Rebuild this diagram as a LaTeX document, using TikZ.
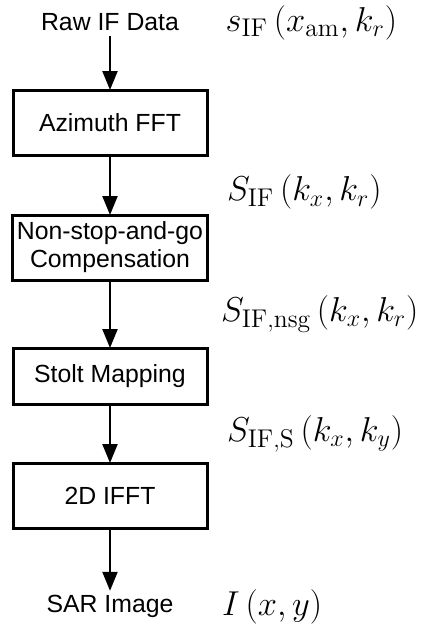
\documentclass[tikz,border=0pt]{standalone}
\usepackage{amsmath}
\usepackage{fontspec}
\setsansfont{Liberation Sans}
\usepackage{tikz}
\usetikzlibrary{positioning,arrows.meta}

\begin{document}
\begin{tikzpicture}[
  node distance=30pt,
  proc/.style={draw, line width=1.5pt, minimum width=97pt, minimum height=32.5pt, outer sep=0pt, inner xsep=2pt, font=\sffamily\fontsize{12.4}{14}\selectfont, align=center},
  io/.style={font=\sffamily\fontsize{12.4}{14}\selectfont, inner sep=2pt},
  sig/.style={font=\fontsize{18.3}{21}\selectfont, inner sep=0pt, anchor=west},
  arr/.style={-{Triangle[length=9.5pt,width=7.5pt]}, line width=1.1pt},
]
\useasboundingbox (0,0) rectangle (218.5pt,-314pt);

% Processing chain
\node[proc] (fft) at (55pt,-61.25pt) {Azimuth FFT};
\node[proc, below=30pt of fft] (nsg) {Non-stop-and-go\\Compensation};
\node[proc, below=34pt of nsg, minimum height=28pt] (stolt) {Stolt Mapping};
\node[proc, below=29.5pt of stolt] (ifft) {2D IFFT};

% Input / output
\node[io, above=27.25pt of fft] (raw) {Raw IF Data};
\node[io, below=31.4pt of ifft] (sar) {SAR Image};

% Signals
\node[sig, right=21pt of raw] (sraw) {$s_{\mathrm{IF}}\left(x_{\mathrm{am}},k_r\right)$};
\node[sig, right=22pt of sar] (simg) {$I\left(x,y\right)$};

\draw[arr] (raw) -- (fft);
\draw[arr] (fft) -- node[sig, pos=0.62, xshift=58pt] (sfft) {$S_{\mathrm{IF}}\left(k_x,k_r\right)$} (nsg);
\draw[arr] (nsg) -- node[sig, xshift=55pt] (snsg) {$S_{\mathrm{IF,nsg}}\left(k_x,k_r\right)$} (stolt);
\draw[arr] (stolt) -- node[sig, xshift=58pt] (sstolt) {$S_{\mathrm{IF,S}}\left(k_x,k_y\right)$} (ifft);
\draw[arr] (ifft) -- (sar);
\end{tikzpicture}
\end{document}
